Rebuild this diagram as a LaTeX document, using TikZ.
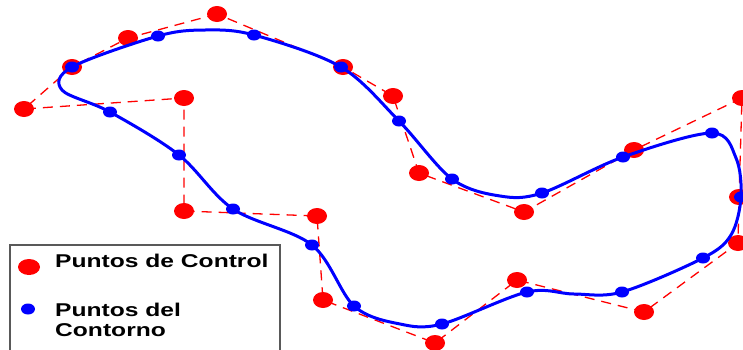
\documentclass[tikz,border=0pt]{standalone}
\usepackage{fontspec}
\setmainfont{Liberation Sans}
\usetikzlibrary{shapes.geometric}
\begin{document}
\begin{tikzpicture}[x=1pt,y=-1pt,
  ctrl/.style={ellipse, fill=red, draw=none, minimum width=20pt, minimum height=16pt, inner sep=0pt},
  cont/.style={ellipse, fill=blue, draw=none, minimum width=14pt, minimum height=11pt, inner sep=0pt},
  poly/.style={red, line width=1.3pt, dash pattern=on 10pt off 7pt},
  curveline/.style={blue, line width=3pt},
  legbox/.style={draw=black!65, line width=1.2pt},
  legtext/.style={font=\fontsize{18.5}{20}\selectfont\bfseries, anchor=base west, inner sep=0pt}]
\clip (0,0) rectangle (743,349);
% contour point positions
\coordinate (k1) at (72,67);
\coordinate (k2) at (158,36);
\coordinate (k3) at (254,35);
\coordinate (k4) at (341,67);
\coordinate (k5) at (399,121);
\coordinate (k6) at (452,179);
\coordinate (k7) at (542,193);
\coordinate (k8) at (623,157);
\coordinate (k9) at (712,133);
\coordinate (k10) at (741,197);
\coordinate (k11) at (703,258);
\coordinate (k12) at (622,292);
\coordinate (k13) at (527,292);
\coordinate (k14) at (442,324);
\coordinate (k15) at (354,306);
\coordinate (k16) at (312,245);
\coordinate (k17) at (233,209);
\coordinate (k18) at (179,155);
\coordinate (k19) at (110,112);
% extra shape points of the curve
\coordinate (t1) at (205,30);
\coordinate (t2) at (500,196);
\coordinate (t3) at (736,158);
\coordinate (t4) at (731,235);
\coordinate (t5) at (574,294);
\coordinate (t6) at (400,324);
\coordinate (t7) at (62,90);
% control points
\node[ctrl] (c1) at (217,14) {};
\node[ctrl] (c2) at (128,38) {};
\node[ctrl] (c3) at (72,67) {};
\node[ctrl] (c4) at (24,109) {};
\node[ctrl] (c5) at (184,98) {};
\node[ctrl] (c6) at (184,211) {};
\node[ctrl] (c7) at (317,216) {};
\node[ctrl] (c8) at (323,300) {};
\node[ctrl] (c9) at (435,343) {};
\node[ctrl] (c10) at (517,280) {};
\node[ctrl] (c11) at (644,312) {};
\node[ctrl] (c12) at (738,243) {};
\node[ctrl] (c13) at (739,197) {};
\node[ctrl] (c14) at (742,98) {};
\node[ctrl] (c15) at (634,150) {};
\node[ctrl] (c16) at (524,212) {};
\node[ctrl] (c17) at (419,173) {};
\node[ctrl] (c18) at (393,96) {};
\node[ctrl] (c19) at (343,67) {};
\draw[poly] (c1.center) -- (c2.center) -- (c3.center) -- (c4.center) -- (c5.center)
  -- (c6.center) -- (c7.center) -- (c8.center) -- (c9.center) -- (c10.center)
  -- (c11.center) -- (c12.center) -- (c13.center) -- (c14.center) -- (c15.center)
  -- (c16.center) -- (c17.center) -- (c18.center) -- (c19.center) -- (c1.center);
% contour curve
\draw[curveline] plot[smooth cycle, tension=0.55] coordinates {(k1) (k2) (t1) (k3) (k4) (k5) (k6) (t2) (k7) (k8) (k9) (t3) (k10) (t4) (k11) (k12) (t5) (k13) (k14) (t6) (k15) (k16) (k17) (k18) (k19) (t7)};
% contour points
\foreach \i in {1,...,19} { \node[cont] (b\i) at (k\i) {}; }
% legend
\draw[legbox] (10,352) -- (10,245) -- (280,245) -- (280,352);
\node[ctrl, minimum width=22pt, minimum height=16pt] (lc) at (29,267) {};
\node[legtext] (lct) at (55,267) {\scalebox{1.33}[1]{Puntos de Control}};
\node[cont] (lb) at (28,309) {};
\node[legtext] (lbt1) at (55,316) {\scalebox{1.33}[1]{Puntos del}};
\node[legtext] (lbt2) at (55,336) {\scalebox{1.33}[1]{Contorno}};
\end{tikzpicture}
\end{document}
